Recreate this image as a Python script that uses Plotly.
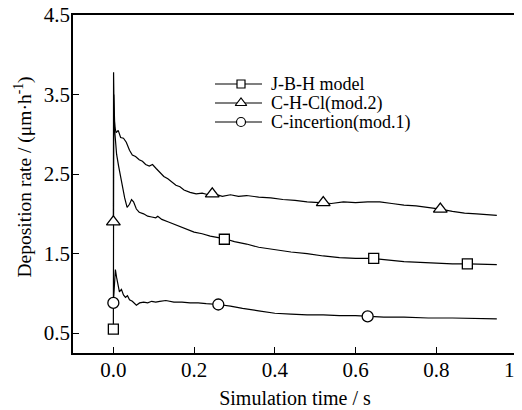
import plotly.graph_objects as go

# C-H-Cl (mod.2) -- triangle
t_tri = [0.0, 0.0005, 0.002, 0.004, 0.007, 0.012, 0.018, 0.025, 0.032, 0.04, 0.047, 0.055, 0.064,
         0.072, 0.08, 0.089, 0.097, 0.106, 0.115, 0.125, 0.135, 0.145, 0.155, 0.165, 0.175, 0.19,
         0.205, 0.22, 0.235, 0.25, 0.27, 0.29, 0.31, 0.33, 0.36, 0.39, 0.42, 0.45, 0.48, 0.51, 0.54,
         0.57, 0.60, 0.63, 0.66, 0.69, 0.72, 0.75, 0.78, 0.81, 0.84, 0.87, 0.90, 0.95]
v_tri = [1.90, 3.78, 3.20, 3.08, 3.02, 3.05, 2.96, 2.95, 2.90, 2.80, 2.74, 2.72, 2.68,
         2.66, 2.62, 2.60, 2.62, 2.57, 2.52, 2.47, 2.44, 2.40, 2.36, 2.34, 2.30, 2.27,
         2.25, 2.26, 2.24, 2.25, 2.22, 2.24, 2.22, 2.23, 2.21, 2.20, 2.18, 2.17, 2.15, 2.14, 2.13,
         2.15, 2.14, 2.15, 2.15, 2.13, 2.11, 2.10, 2.08, 2.06, 2.03, 2.01, 2.00, 1.98]
t_tri_mk = [0.0, 0.245, 0.52, 0.81]
v_tri_mk = [1.90, 2.25, 2.14, 2.06]

# J-B-H model -- square
t_sq = [0.0, 0.001, 0.004, 0.008, 0.013, 0.018, 0.023, 0.028, 0.034, 0.04, 0.045, 0.05, 0.057,
        0.064, 0.075, 0.085, 0.095, 0.105, 0.11, 0.12, 0.135, 0.15, 0.165, 0.18, 0.20, 0.22, 0.24,
        0.26, 0.28, 0.30, 0.33, 0.36, 0.40, 0.44, 0.48, 0.52, 0.56, 0.60, 0.64, 0.68, 0.72, 0.76,
        0.80, 0.84, 0.88, 0.92, 0.95]
v_sq = [0.55, 3.50, 3.00, 2.75, 2.60, 2.45, 2.30, 2.20, 2.08, 2.12, 2.18, 2.15, 2.06,
        2.02, 2.00, 1.97, 1.96, 1.95, 1.97, 1.93, 1.90, 1.87, 1.84, 1.81, 1.77, 1.75, 1.72,
        1.70, 1.68, 1.65, 1.62, 1.58, 1.55, 1.52, 1.50, 1.47, 1.45, 1.44, 1.44, 1.42, 1.40, 1.39,
        1.38, 1.37, 1.37, 1.36, 1.36]
t_sq_mk = [0.0, 0.275, 0.645, 0.877]
v_sq_mk = [0.55, 1.68, 1.44, 1.37]

# C-incertion (mod.1) -- circle
t_ci = [0.0, 0.002, 0.005, 0.008, 0.012, 0.015, 0.02, 0.025, 0.03, 0.035, 0.04, 0.047, 0.057,
        0.065, 0.075, 0.085, 0.095, 0.105, 0.115, 0.13, 0.15, 0.17, 0.19, 0.21, 0.23, 0.26, 0.29,
        0.32, 0.36, 0.40, 0.44, 0.48, 0.52, 0.56, 0.60, 0.63, 0.67, 0.72, 0.78, 0.84, 0.90, 0.95]
v_ci = [0.88, 1.05, 1.30, 1.20, 1.08, 1.02, 1.05, 0.98, 0.95, 0.97, 0.92, 0.90, 0.85,
        0.88, 0.89, 0.88, 0.90, 0.89, 0.90, 0.91, 0.89, 0.89, 0.88, 0.88, 0.87, 0.86, 0.84,
        0.81, 0.78, 0.75, 0.74, 0.73, 0.73, 0.72, 0.72, 0.71, 0.70, 0.70, 0.69, 0.69, 0.68, 0.68]
t_ci_mk = [0.0, 0.26, 0.63]
v_ci_mk = [0.88, 0.86, 0.71]

x_ticks = [0.0, 0.2, 0.4, 0.6, 0.8, 1.0]
x_ticklabels = ["0.0", "0.2", "0.4", "0.6", "0.8", "1.0"]
y_ticks = [0.5, 1.5, 2.5, 3.5, 4.5]
y_ticklabels = ["0.5", "1.5", "2.5", "3.5", "4.5"]
x_title = "Simulation time / s"
y_title = "Deposition rate / (μm·h<sup>-1</sup>)"

series_names = ["J-B-H model", "C-H-Cl(mod.2)", "C-incertion(mod.1)"]
series = [
    (series_names[0], t_sq, v_sq, t_sq_mk, v_sq_mk, "square", 10),
    (series_names[1], t_tri, v_tri, t_tri_mk, v_tri_mk, "triangle-up", 12),
    (series_names[2], t_ci, v_ci, t_ci_mk, v_ci_mk, "circle", 11),
]

FONT = "Liberation Serif"
fig = go.Figure()
for name, tx, vy, tm, vm, sym, sz in series:
    fig.add_trace(go.Scatter(x=tx, y=vy, mode="lines", line=dict(color="black", width=1.2),
                             showlegend=False, hoverinfo="skip"))
for name, tx, vy, tm, vm, sym, sz in series:
    fig.add_trace(go.Scatter(x=tm, y=vm, mode="markers", name=name,
                             marker=dict(symbol=sym, size=sz, color="white",
                                         line=dict(width=1.3, color="black")),
                             showlegend=False))

# compact legend (drawn on an overlay axis measured in page pixels)
leg_rows = [84, 103, 122]
leg_x0, leg_xm, leg_x1, leg_tx = 215, 241, 262, 269
for (name, _, _, _, _, sym, sz), ry in zip(series, leg_rows):
    fig.add_trace(go.Scatter(x=[leg_x0, leg_x1], y=[ry, ry], mode="lines", xaxis="x2", yaxis="y2",
                             line=dict(color="black", width=1.1), showlegend=False, hoverinfo="skip"))
    fig.add_trace(go.Scatter(x=[leg_xm], y=[ry], mode="markers", xaxis="x2", yaxis="y2",
                             marker=dict(symbol=sym, size=sz - 2, color="white",
                                         line=dict(width=1.2, color="black")),
                             showlegend=False, hoverinfo="skip"))
    fig.add_annotation(x=leg_tx, y=ry, xref="x2", yref="y2", text=name, showarrow=False,
                       xanchor="left", yanchor="middle",
                       font=dict(family=FONT, size=18, color="black"))

# y-axis title placed as a rotated annotation (left of the tick labels)
fig.add_annotation(x=-0.112, y=0.52, xref="paper", yref="paper", text=y_title, textangle=-90,
                   showarrow=False, xanchor="center", yanchor="middle",
                   font=dict(family=FONT, size=19.5, color="black"))

axis_common = dict(showline=True, linecolor="black", linewidth=1.5, mirror=True,
                   ticks="inside", ticklen=6, tickcolor="black", showgrid=False, zeroline=False,
                   automargin=False, ticklabeloverflow="allow",
                   tickfont=dict(family=FONT, size=21, color="black"))

# page body has an 8px default margin, so the figure is 8px smaller on each axis
fig.update_layout(
    width=514, height=402,
    margin=dict(l=65, r=5, t=7, b=57),
    paper_bgcolor="white", plot_bgcolor="white",
    font=dict(family=FONT, color="black"),
    showlegend=False,
    xaxis=dict(range=[-0.1, 1.0], tickvals=x_ticks, ticktext=x_ticklabels,
               ticklabelstandoff=-3,
               title=dict(text=x_title, font=dict(family=FONT, size=20), standoff=10),
               **axis_common),
    yaxis=dict(range=[0.25, 4.5], tickvals=y_ticks, ticktext=y_ticklabels,
               ticklabelstandoff=-3,
               **axis_common),
    xaxis2=dict(overlaying="x", range=[73, 517], visible=False, fixedrange=True),
    yaxis2=dict(overlaying="y", range=[353, 15], visible=False, fixedrange=True),
)

fig.write_html("out.html")
